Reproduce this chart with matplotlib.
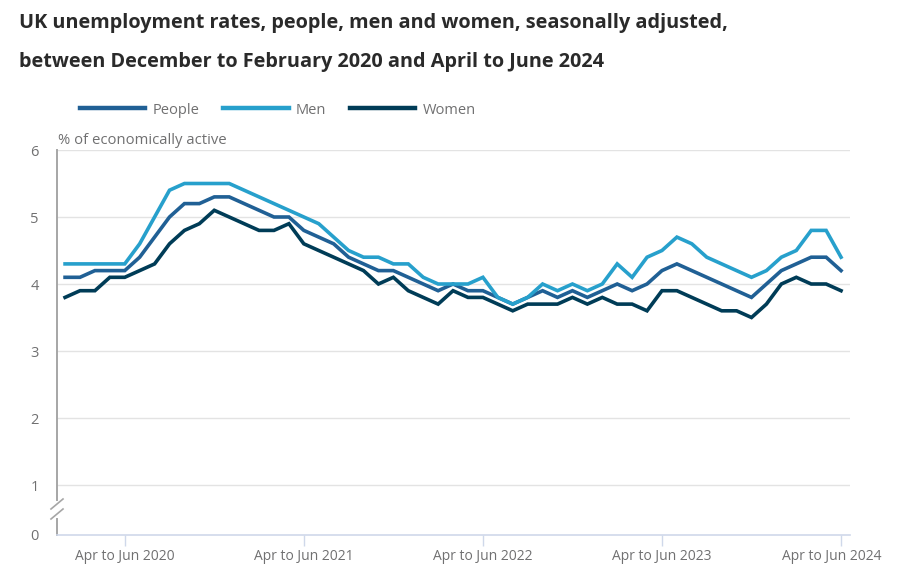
import matplotlib.pyplot as plt
import matplotlib.transforms as mtransforms
import numpy as np

plt.rcParams['font.family'] = ['Open Sans', 'DejaVu Sans']

# rolling 3-month periods, Dec to Feb 2020 ... Apr to Jun 2024
months = ['Jan', 'Feb', 'Mar', 'Apr', 'May', 'Jun', 'Jul', 'Aug', 'Sep', 'Oct', 'Nov', 'Dec']
periods = []
for k in range(53):
    end = 1 + k  # end month counted from Jan 2020 = 0
    y_end = 2020 + end // 12
    periods.append(f"{months[(end - 2) % 12]} to {months[end % 12]} {y_end}")

people = [4.1, 4.1, 4.2, 4.2, 4.2, 4.4, 4.7, 5.0, 5.2, 5.2, 5.3, 5.3, 5.2, 5.1, 5.0, 5.0,
          4.8, 4.7, 4.6, 4.4, 4.3, 4.2, 4.2, 4.1, 4.0, 3.9, 4.0, 3.9, 3.9, 3.8, 3.7, 3.8,
          3.9, 3.8, 3.9, 3.8, 3.9, 4.0, 3.9, 4.0, 4.2, 4.3, 4.2, 4.1, 4.0, 3.9, 3.8, 4.0,
          4.2, 4.3, 4.4, 4.4, 4.2]
men = [4.3, 4.3, 4.3, 4.3, 4.3, 4.6, 5.0, 5.4, 5.5, 5.5, 5.5, 5.5, 5.4, 5.3, 5.2, 5.1,
       5.0, 4.9, 4.7, 4.5, 4.4, 4.4, 4.3, 4.3, 4.1, 4.0, 4.0, 4.0, 4.1, 3.8, 3.7, 3.8,
       4.0, 3.9, 4.0, 3.9, 4.0, 4.3, 4.1, 4.4, 4.5, 4.7, 4.6, 4.4, 4.3, 4.2, 4.1, 4.2,
       4.4, 4.5, 4.8, 4.8, 4.4]
women = [3.8, 3.9, 3.9, 4.1, 4.1, 4.2, 4.3, 4.6, 4.8, 4.9, 5.1, 5.0, 4.9, 4.8, 4.8, 4.9,
         4.6, 4.5, 4.4, 4.3, 4.2, 4.0, 4.1, 3.9, 3.8, 3.7, 3.9, 3.8, 3.8, 3.7, 3.6, 3.7,
         3.7, 3.7, 3.8, 3.7, 3.8, 3.7, 3.7, 3.6, 3.9, 3.9, 3.8, 3.7, 3.6, 3.6, 3.5, 3.7,
         4.0, 4.1, 4.0, 4.0, 3.9]

series = [('People', people, '#206095'), ('Men', men, '#27a0cc'), ('Women', women, '#003c57')]

W, H = 918, 581
fig = plt.figure(figsize=(W / 100, H / 100), dpi=100)
ax = fig.add_axes([57 / W, 1 - 535 / H, (850 - 57) / W, (535 - 150) / H])

x = np.arange(len(periods))
for name, vals, col in series:
    ax.plot(x, vals, color=col, lw=2.6, label=name, solid_joinstyle='miter', zorder=3)

y0 = 0.254  # broken axis: "0" drawn below 1
ax.set_ylim(y0, 6)
ax.set_xlim(-0.54, 52.6)
ax.set_yticks([y0, 1, 2, 3, 4, 5, 6])
ax.set_yticklabels(['0', '1', '2', '3', '4', '5', '6'])
for v in [1, 2, 3, 4, 5, 6]:
    ax.axhline(v, color='#e3e3e3', lw=1, zorder=1)

xt = [i for i, p in enumerate(periods) if p.startswith('Apr to Jun')]
ax.set_xticks(xt)
ax.set_xticklabels([periods[i] for i in xt])

ax.tick_params(axis='y', length=0, pad=13, labelsize=10.5, labelcolor='#707071')
ax.tick_params(axis='x', length=8, width=1, color='#cfd8ea', pad=2, labelsize=10,
               labelcolor='#707071')

# last label is pulled left so it stays inside the chart
last = ax.get_xticklabels()[-1]
last.set_transform(last.get_transform() + mtransforms.ScaledTranslation(-9 / 100, 0, fig.dpi_scale_trans))

for s in ['top', 'right', 'left']:
    ax.spines[s].set_visible(False)
ax.spines['bottom'].set_color('#cfd8ea')
ax.spines['bottom'].set_linewidth(1.2)

# left axis with break marks
axis_h = 535 - 150
ax.plot([0, 0], [35 / axis_h, 1], transform=ax.transAxes, color='#a6a6a6', lw=1.4, clip_on=False)
ax.plot([0, 0], [0, 16 / axis_h], transform=ax.transAxes, color='#a6a6a6', lw=1.4, clip_on=False)
to_axes = ax.transAxes.inverted()


def fig_px(px, py):
    return to_axes.transform(fig.transFigure.transform((px / W, 1 - py / H)))


for (xa, ya), (xb, yb) in [((51, 509), (63, 499)), ((51, 519), (63, 509))]:
    p1, p2 = fig_px(xa, ya), fig_px(xb, yb)
    ax.plot([p1[0], p2[0]], [p1[1], p2[1]], transform=ax.transAxes, color='#a6a6a6',
            lw=1.2, clip_on=False)

fig.text(19 / W, 1 - 23 / H, 'UK unemployment rates, people, men and women, seasonally adjusted,',
         fontsize=14.3, fontweight='bold', color='#2a2a2a', va='center', ha='left')
fig.text(19 / W, 1 - 62 / H, 'between December to February 2020 and April to June 2024',
         fontsize=14.3, fontweight='bold', color='#2a2a2a', va='center', ha='left')
fig.text(58 / W, 1 - 140 / H, '% of economically active', fontsize=10.7, color='#707071',
         va='center', ha='left')

leg = fig.legend(loc='center left', bbox_to_anchor=(74 / W, 1 - 110 / H), ncol=3,
                 frameon=False, handlelength=4.5, handletextpad=0.5, columnspacing=1.6,
                 fontsize=10.5, borderaxespad=0)
for t in leg.get_texts():
    t.set_color('#707071')
for h in leg.get_lines():
    h.set_linewidth(3.2)

fig.savefig('out.png', dpi=100)
